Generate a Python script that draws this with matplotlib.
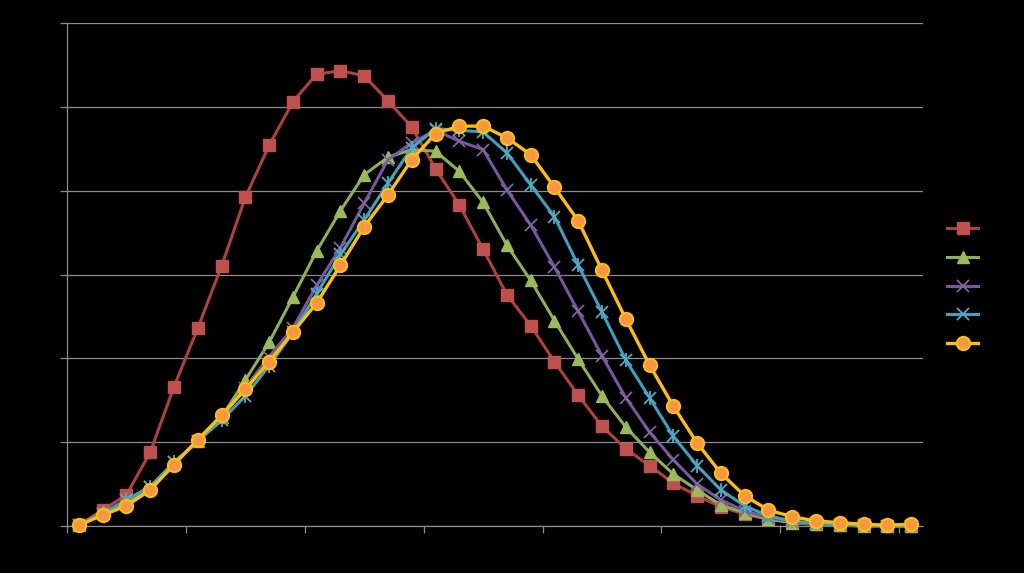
import matplotlib
matplotlib.use("Agg")
import matplotlib.pyplot as plt
import numpy as np

# 36 categories, values
n_points = 36
series_a = [0.1, 1.9, 3.7, 8.8, 16.6, 23.6, 31.0, 39.2, 45.4, 50.6, 53.9, 54.3,
            53.7, 50.7, 47.6, 42.6, 38.3, 33.0, 27.6, 23.9, 19.6, 15.6, 11.9, 9.2,
            7.2, 5.1, 3.6, 2.3, 1.4, 0.8, 0.5, 0.2, 0.1, 0.1, 0.0, 0.0]
series_b = [0.1, 1.7, 2.7, 4.5, 7.5, 10.1, 13.0, 17.4, 21.9, 27.3, 32.8, 37.6,
            41.9, 44.0, 44.9, 44.7, 42.3, 38.6, 33.5, 29.3, 24.5, 19.9, 15.5, 11.8,
            8.8, 6.2, 4.3, 2.5, 1.6, 0.8, 0.4, 0.2, 0.1, 0.0, 0.0, 0.0]
series_c = [0.1, 1.6, 3.1, 4.7, 7.6, 10.1, 12.9, 16.5, 20.2, 23.6, 28.7, 33.2,
            38.5, 43.7, 45.7, 47.2, 45.9, 44.9, 40.1, 35.9, 30.9, 25.6, 20.3, 15.3,
            11.2, 7.9, 5.0, 3.1, 1.8, 1.0, 0.5, 0.2, 0.1, 0.0, 0.0, 0.0]
series_d = [0.1, 1.4, 3.1, 4.7, 7.6, 10.1, 12.6, 15.5, 19.1, 23.1, 27.7, 32.4,
            36.5, 40.9, 45.1, 47.4, 47.2, 47.0, 44.5, 40.7, 36.9, 31.1, 25.5, 19.8,
            15.3, 10.7, 7.2, 4.3, 2.4, 1.2, 0.6, 0.3, 0.1, 0.1, 0.0, 0.0]
series_e = [0.1, 1.3, 2.4, 4.3, 7.3, 10.3, 13.2, 16.3, 19.6, 23.1, 26.6, 31.1,
            35.7, 39.5, 43.7, 46.8, 47.7, 47.7, 46.3, 44.3, 40.4, 36.4, 30.5, 24.7,
            19.2, 14.3, 9.9, 6.3, 3.6, 1.9, 1.1, 0.6, 0.4, 0.2, 0.1, 0.2]

x = np.arange(1, n_points + 1)

fig = plt.figure(figsize=(10.24, 5.73), dpi=100, facecolor="black")
ax = fig.add_axes([67 / 1024, 47 / 573, 856 / 1024, 503 / 573])
ax.set_facecolor("black")

grid_col = "#8c8c8c"
ax.set_xlim(0.5, n_points + 0.5)
ax.set_ylim(0, 60)
ax.set_yticks(np.arange(0, 61, 10))
ax.set_xticks(np.arange(0.5, n_points + 0.6, 5))
ax.yaxis.grid(True, color=grid_col, lw=0.9)
ax.set_axisbelow(True)
for side in ["top", "right"]:
    ax.spines[side].set_visible(False)
for side in ["left", "bottom"]:
    ax.spines[side].set_color(grid_col)
    ax.spines[side].set_linewidth(0.9)
ax.tick_params(colors=grid_col, direction="out", length=5, width=0.9,
               labelleft=False, labelbottom=False)

h1, = ax.plot(x, series_a, color="#B0403D", lw=2.2, marker="s", ms=8,
              mfc="#C0504D", mec="#C0504D", clip_on=False, zorder=3)
h2, = ax.plot(x, series_b, color="#8FB050", lw=2.2, marker="^", ms=9,
              mfc="#9BBB59", mec="#9BBB59", clip_on=False, zorder=4)
h3, = ax.plot(x, series_c, color="#7558A0", lw=2.2, marker="x", ms=9,
              mew=1.3, mec="#8064A2", clip_on=False, zorder=5)
h4, = ax.plot(x, series_d, color="#3AA3C2", lw=2.2, marker="x", ms=9,
              mew=1.3, mec="#4BACC6", clip_on=False, zorder=6)
ax.plot(x, series_d, ls="none", marker="|", ms=10, mew=1.3, mec="#4BACC6",
        clip_on=False, zorder=6)
h5, = ax.plot(x, series_e, color="#FFC000", lw=2.4, marker="o", ms=9.5,
              mfc="#F79646", mec="#FFC000", mew=1.5, clip_on=False, zorder=7)

leg = fig.legend([h1, h2, h3, h4, h5], [""] * 5, loc="center left",
                 bbox_to_anchor=(0.913, 0.5), frameon=False, handlelength=2.2,
                 labelspacing=1.05)

plt.savefig("out.png", dpi=100, facecolor="black")
